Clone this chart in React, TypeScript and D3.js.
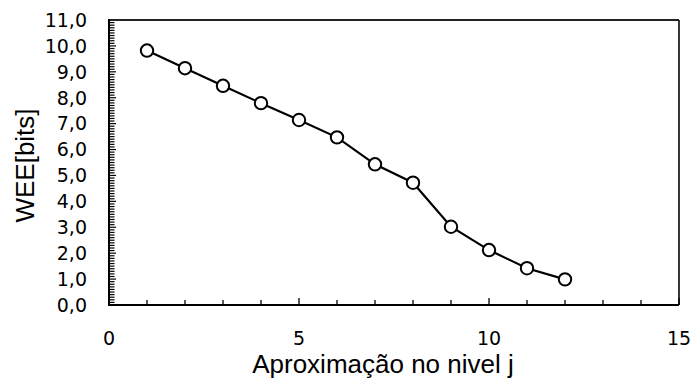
import React from "react";
import * as d3 from "d3";

const levels = [1, 2, 3, 4, 5, 6, 7, 8, 9, 10, 11, 12];
const wee = [9.82, 9.14, 8.46, 7.79, 7.14, 6.47, 5.43, 4.72, 3.02, 2.12, 1.42, 0.99];
const xMajorTicks = [0, 5, 10, 15];
const yMajorTicks = [0, 1, 2, 3, 4, 5, 6, 7, 8, 9, 10, 11];
const xTitle = "Aproximação no nivel j";
const yTitle = "WEE[bits]";

const W = 692;
const H = 381;
const left = 109;
const right = 679;
const top = 20;
const bottom = 305;

export default function App() {
  const x = d3.scaleLinear().domain([0, 15]).range([left, right]);
  const y = d3.scaleLinear().domain([0, 11]).range([bottom, top]);
  const xMinor = d3.range(0, 16, 1);
  const yMinor = d3.range(0, 110, 1).map((v) => v / 10);
  const line = d3
    .line<number>()
    .x((_, i) => x(levels[i]))
    .y((d) => y(d));
  const tickFont = "'DejaVu Sans', sans-serif";
  const titleFont = "'Liberation Sans', Arial, sans-serif";
  return (
    <svg
      width={W}
      height={H}
      style={{ position: "absolute", left: 0, top: 0, background: "#fff" }}
    >
      <line x1={left} x2={right} y1={top} y2={top} stroke="#222" strokeWidth={1.8} />
      <line x1={right} x2={right} y1={top} y2={bottom} stroke="#222" strokeWidth={1.8} />
      {yMinor.map((v) => (
        <line
          key={"ym" + v}
          x1={left}
          x2={left + (Math.abs(v - Math.round(v)) < 1e-6 ? 7 : 5.5)}
          y1={y(v)}
          y2={y(v)}
          stroke="#000"
          strokeWidth={1.2}
        />
      ))}
      {xMinor.map((v) => (
        <line
          key={"xm" + v}
          x1={x(v)}
          x2={x(v)}
          y1={bottom}
          y2={bottom - (v % 5 === 0 ? 7 : 5)}
          stroke="#000"
          strokeWidth={1.3}
        />
      ))}
      <line x1={left} x2={left} y1={top - 1} y2={bottom + 1} stroke="#000" strokeWidth={2} />
      <line x1={left - 1} x2={right} y1={bottom} y2={bottom} stroke="#000" strokeWidth={2} />
      {yMajorTicks.map((v) => (
        <text
          key={"yl" + v}
          x={87}
          y={y(v)}
          dy="0.36em"
          textAnchor="end"
          fontFamily={tickFont}
          fontSize={19}
          fill="#000"
        >
          {v.toFixed(1).replace(".", ",")}
        </text>
      ))}
      {xMajorTicks.map((v) => (
        <text
          key={"xl" + v}
          x={x(v)}
          y={345}
          textAnchor="middle"
          fontFamily={tickFont}
          fontSize={19}
          fill="#000"
        >
          {v}
        </text>
      ))}
      <text
        x={383}
        y={373}
        textAnchor="middle"
        fontFamily={titleFont}
        fontSize={26}
        fill="#000"
      >
        {xTitle}
      </text>
      <text
        transform={`translate(34,165.5) rotate(-90)`}
        textAnchor="middle"
        fontFamily={titleFont}
        fontSize={26}
        fill="#000"
      >
        {yTitle}
      </text>
      <path d={line(wee) || ""} fill="none" stroke="#000" strokeWidth={2.2} />
      {wee.map((v, i) => (
        <circle
          key={"p" + i}
          cx={x(levels[i])}
          cy={y(v)}
          r={6.2}
          fill="#fff"
          stroke="#000"
          strokeWidth={2}
        />
      ))}
    </svg>
  );
}
